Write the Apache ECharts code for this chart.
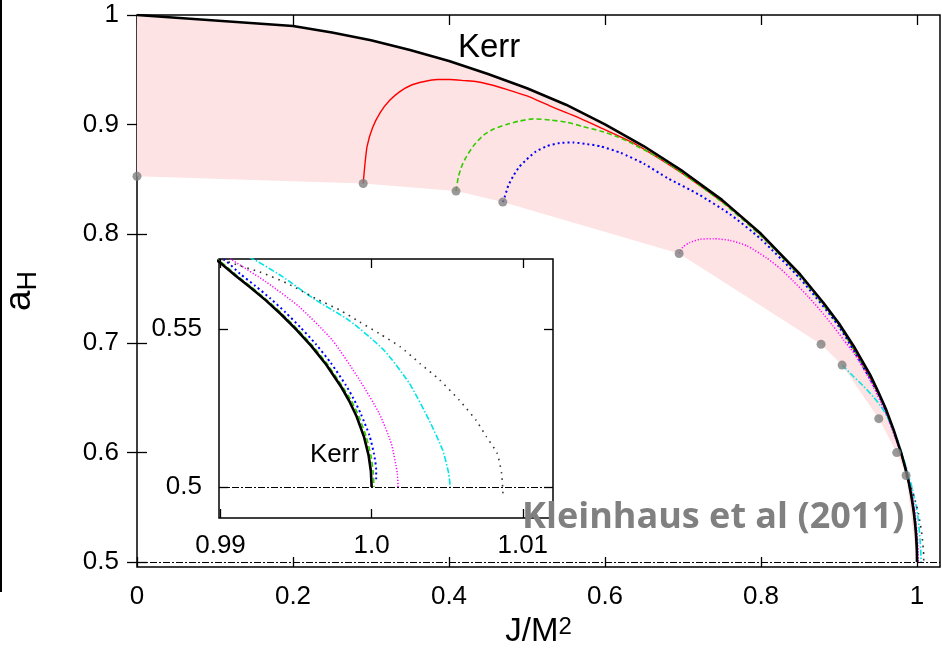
<!DOCTYPE html>
<html>
<head>
<meta charset="utf-8">
<script src="https://cdn.jsdelivr.net/npm/echarts@6/dist/echarts.min.js"></script>
<style>html,body{margin:0;padding:0;background:#fff}#c{width:942px;height:657px}</style>
</head>
<body>
<div id="c"></div>
<script>
// ---- data (J/M^2, a_H) ----
const kerr = [[0,1.000],[0.2,0.990],[0.25,0.984],[0.3,0.977],[0.35,0.968],[0.4,0.958],[0.45,0.946],[0.5,0.933],[0.55,0.918],[0.6,0.900],[0.65,0.880],[0.7,0.857],[0.75,0.831],[0.8,0.800],[0.85,0.763],[0.88,0.737],[0.9,0.718],[0.92,0.696],[0.94,0.671],[0.95,0.656],[0.96,0.640],[0.97,0.621],[0.98,0.599],[0.985,0.586],[0.9899,0.5713],[0.991,0.5669],[0.992,0.5631],[0.993,0.5591],[0.994,0.5547],[0.995,0.5499],[0.996,0.5447],[0.997,0.5387],[0.998,0.5316],[0.9985,0.5274],[0.999,0.5224],[0.9995,0.5158],[0.9998,0.5100],[0.99995,0.5050],[1.0,0.5]];
const red = [[0.290,0.846],[0.292,0.862],[0.295,0.880],[0.302,0.897],[0.312,0.911],[0.324,0.922],[0.337,0.930],[0.352,0.936],[0.367,0.939],[0.385,0.941],[0.401,0.941],[0.420,0.940],[0.436,0.939],[0.455,0.936],[0.474,0.932],[0.500,0.926],[0.529,0.917],[0.560,0.908],[0.594,0.897],[0.636,0.883],[0.680,0.864],[0.720,0.845],[0.760,0.824],[0.800,0.799],[0.850,0.762],[0.900,0.717],[0.950,0.655],[0.970,0.620],[0.980,0.598],[0.985,0.585],[0.9899,0.5713],[0.991,0.5669],[0.992,0.5631],[0.993,0.5591],[0.994,0.5547],[0.995,0.5499],[0.996,0.5447],[0.997,0.5387],[0.998,0.5316],[0.9985,0.5274],[0.999,0.5224],[0.9995,0.5158],[0.9998,0.5100],[0.99995,0.5050],[1.0,0.5]];
const green = [[0.409,0.839],[0.412,0.852],[0.417,0.863],[0.4227,0.871],[0.432,0.881],[0.444,0.890],[0.458,0.896],[0.474,0.900],[0.490,0.903],[0.508,0.905],[0.530,0.904],[0.551,0.902],[0.572,0.898],[0.594,0.894],[0.615,0.889],[0.636,0.882],[0.670,0.869],[0.700,0.855],[0.750,0.829],[0.800,0.798],[0.850,0.761],[0.900,0.716],[0.950,0.655],[0.970,0.620],[0.980,0.599],[0.985,0.586],[0.9900,0.5713],[0.9911,0.5669],[0.9921,0.5631],[0.9931,0.5591],[0.9941,0.5547],[0.9951,0.5499],[0.9961,0.5447],[0.9971,0.5387],[0.9981,0.5316],[0.99865,0.5274],[0.99915,0.5224],[0.99965,0.5158],[0.99995,0.5100],[1.0001,0.5050],[1.00015,0.5000]];
const blue = [[0.469,0.829],[0.4718,0.8345],[0.476,0.844],[0.4825,0.853],[0.490,0.861],[0.4996,0.868],[0.511,0.875],[0.525,0.880],[0.542,0.883],[0.559,0.8834],[0.577,0.882],[0.594,0.880],[0.620,0.874],[0.650,0.864],[0.680,0.851],[0.720,0.836],[0.760,0.818],[0.800,0.795],[0.850,0.759],[0.900,0.715],[0.950,0.654],[0.970,0.620],[0.980,0.599],[0.985,0.587],[0.9903,0.5718],[0.9913,0.5675],[0.9923,0.5637],[0.9933,0.5597],[0.9943,0.5553],[0.9953,0.5505],[0.9963,0.5453],[0.9973,0.5393],[0.9983,0.5322],[0.9988,0.5280],[0.9993,0.5230],[0.99985,0.5164],[1.00015,0.5106],[1.0003,0.5055],[1.0003,0.5025]];
const magenta = [[0.695,0.782],[0.700,0.788],[0.709,0.792],[0.722,0.795],[0.739,0.7955],[0.760,0.794],[0.782,0.789],[0.807,0.778],[0.825,0.768],[0.841,0.757],[0.860,0.743],[0.876,0.730],[0.892,0.716],[0.906,0.703],[0.920,0.690],[0.940,0.666],[0.960,0.636],[0.975,0.608],[0.9862,0.586],[0.9908,0.5718],[0.9930,0.5650],[0.9952,0.5571],[0.9974,0.5465],[0.9992,0.5339],[1.0005,0.5233],[1.0013,0.5138],[1.0017,0.5043],[1.00175,0.5000]];
const cyan = [[0.904,0.680],[0.918,0.670],[0.931,0.661],[0.944,0.651],[0.953,0.643],[0.961,0.634],[0.972,0.617],[0.980,0.601],[0.986,0.587],[0.9895,0.5780],[0.9923,0.5718],[0.9941,0.5666],[0.9963,0.5592],[0.9985,0.5528],[1.0008,0.5434],[1.0025,0.5328],[1.0038,0.5212],[1.0047,0.5117],[1.0051,0.5043],[1.0052,0.5000]];
const gray = [[0.986,0.579],[0.9882,0.5755],[0.9899,0.5725],[0.9908,0.5708],[0.9926,0.5681],[0.9944,0.5645],[0.9963,0.5597],[0.9979,0.5560],[0.9992,0.5523],[1.0005,0.5486],[1.0019,0.5444],[1.0032,0.5391],[1.0045,0.5339],[1.0058,0.5275],[1.0069,0.5212],[1.0076,0.5159],[1.0083,0.5107],[1.0086,0.5043],[1.0087,0.4969]];
const dots = [[0,0.8526],[0.290,0.846],[0.409,0.839],[0.469,0.829],[0.695,0.782],[0.877,0.699],[0.904,0.680],[0.951,0.631],[0.974,0.600],[0.986,0.579]];
const lowerEnd = [[1.0,0.5]];
const mainXTicks = [0,0.2,0.4,0.6,0.8,1];
const mainYTicks = [0.5,0.6,0.7,0.8,0.9,1];
const insetXTicks = [0.99,1.0,1.01];
const insetXLabels = ['0.99','1.0','1.01'];
const insetYTicks = [0.5,0.55];
const insetYLabels = ['0.5','0.55'];
const refLine = 0.5;

const FONT = "'Liberation Sans', Arial, Helvetica, sans-serif";
const chart = echarts.init(document.getElementById('c'), null, {renderer:'canvas'});

function lookup(ticks, labels){
  return function(v){
    for (let i=0;i<ticks.length;i++) if (Math.abs(v-ticks[i])<1e-6) return labels[i];
    return '';
  };
}
function baseAxis(extra){
  return Object.assign({
    type:'value', axisLine:{show:false}, splitLine:{show:false},
    axisTick:{show:true, inside:true, length:10, lineStyle:{color:'#000', width:1.3}},
  }, extra);
}
const labelStyle = {color:'#000', fontFamily:FONT, fontSize:26};

const styles = {
  kerr:{color:'#000', width:2.6, type:'solid'},
  red:{color:'#ff0000', width:1.4, type:'solid'},
  green:{color:'#33cc00', width:1.6, type:[5,3]},
  blue:{color:'#0000ff', width:2, type:[2,3]},
  magenta:{color:'#ff00ff', width:1.5, type:[1.2,1.8]},
  cyan:{color:'#00e5e5', width:1.6, type:[6,2,1.5,2]},
  gray:{color:'#333', width:1.6, type:[1.6,5]}
};
const smoothing = {kerr:false, red:0.2, green:0.2, blue:0.2, magenta:0.2, cyan:0.2, gray:0.2};
const curves = [['red',red],['green',green],['blue',blue],['magenta',magenta],['cyan',cyan],['gray',gray],['kerr',kerr]];

const series = [];
// pink band (main)
series.push({
  type:'custom', xAxisIndex:0, yAxisIndex:0, silent:true, z:1,
  data:[[0,1]],
  renderItem:function(params, api){
    const lower = dots.concat(lowerEnd);
    const pts = kerr.map(p=>api.coord(p)).concat(lower.slice().reverse().map(p=>api.coord(p)));
    return {type:'polygon', shape:{points:pts}, style:{fill:'#fde3e3'}};
  }
});
[[0,0],[2,2]].forEach(function(ax, g){
  curves.forEach(function(c, i){
    const s = {
      type:'line', name:c[0]+g, xAxisIndex:ax[0], yAxisIndex:ax[1], data:c[1],
      showSymbol:false, symbol:'none', smooth:smoothing[c[0]], clip:true, silent:true,
      lineStyle:styles[c[0]], z: 3+i*0.1
    };
    if (i===0) {
      s.markLine = {silent:true, symbol:'none', label:{show:false},
        lineStyle:{color:'#000', width:1.2, type:[7,2,2,2]},
        data:[{yAxis:refLine}], animation:false};
    }
    series.push(s);
  });
});
series.push({type:'scatter', xAxisIndex:0, yAxisIndex:0, data:dots, symbolSize:9,
  itemStyle:{color:'#7f7f7f'}, silent:true, z:6});

const option = {
  animation:false,
  backgroundColor:'#fff',
  grid:[
    {left:137, top:15, width:803, height:552, show:true, borderColor:'#000', borderWidth:1.5, backgroundColor:'transparent', containLabel:false, outerBoundsMode:'none'},
    {left:219, top:259, width:334, height:259, show:true, borderColor:'#000', borderWidth:1.5, backgroundColor:'#fff', containLabel:false, outerBoundsMode:'none'}
  ],
  xAxis:[
    baseAxis({gridIndex:0, min:0, max:1.0295, position:'bottom',
      axisTick:{show:true, inside:true, length:10, customValues:mainXTicks, lineStyle:{color:'#000', width:1.3}},
      axisLabel:Object.assign({customValues:mainXTicks, margin:17}, labelStyle),
      name:'{m|J/M}{s|2}', nameLocation:'middle', nameGap:48, nameMoveOverlap:false,
      nameTextStyle:{color:'#000', fontFamily:FONT, rich:{
        m:{fontSize:33, lineHeight:33, fontFamily:FONT, color:'#000', padding:[11,0,0,0], verticalAlign:'bottom'},
        s:{fontSize:24, lineHeight:24, fontFamily:FONT, color:'#000', verticalAlign:'top'}}}
    }),
    baseAxis({gridIndex:0, min:0, max:1.0295, position:'top',
      axisTick:{show:true, inside:true, length:10, customValues:mainXTicks, lineStyle:{color:'#000', width:1.3}},
      axisLabel:{show:false}}),
    baseAxis({gridIndex:1, min:0.9899, max:1.0120, position:'bottom',
      axisTick:{show:true, inside:true, length:9, customValues:insetXTicks, lineStyle:{color:'#000', width:1.3}},
      axisLabel:Object.assign({customValues:insetXTicks, margin:15, formatter:lookup(insetXTicks, insetXLabels)}, labelStyle)}),
    baseAxis({gridIndex:1, min:0.9899, max:1.0120, position:'top',
      axisTick:{show:true, inside:true, length:9, customValues:insetXTicks, lineStyle:{color:'#000', width:1.3}},
      axisLabel:{show:false}})
  ],
  yAxis:[
    baseAxis({gridIndex:0, min:0.4954, max:1.0, position:'left',
      axisTick:{show:true, inside:true, length:10, customValues:mainYTicks, lineStyle:{color:'#000', width:1.3}},
      axisLabel:Object.assign({customValues:mainYTicks, margin:18}, labelStyle),
      name:'{a|a}{h|H}', nameLocation:'middle', nameGap:95, nameRotate:90, nameMoveOverlap:false,
      nameTextStyle:{color:'#000', fontFamily:FONT, rich:{
        a:{fontSize:37, lineHeight:37, fontFamily:FONT, color:'#000', padding:[0,0,8,0]},
        h:{fontSize:27, lineHeight:27, fontFamily:FONT, color:'#000', verticalAlign:'bottom'}}}
    }),
    baseAxis({gridIndex:0, min:0.4954, max:1.0, position:'right',
      axisTick:{show:true, inside:true, length:10, customValues:mainYTicks, lineStyle:{color:'#000', width:1.3}},
      axisLabel:{show:false}}),
    baseAxis({gridIndex:1, min:0.4902, max:0.5722, position:'left',
      axisTick:{show:true, inside:true, length:9, customValues:insetYTicks, lineStyle:{color:'#000', width:1.3}},
      axisLabel:Object.assign({customValues:insetYTicks, margin:17, formatter:lookup(insetYTicks, insetYLabels)}, labelStyle)}),
    baseAxis({gridIndex:1, min:0.4902, max:0.5722, position:'right',
      axisTick:{show:true, inside:true, length:9, customValues:insetYTicks, lineStyle:{color:'#000', width:1.3}},
      axisLabel:{show:false}})
  ],
  graphic:[
    {type:'line', silent:true, shape:{x1:1, y1:0, x2:1, y2:592}, style:{stroke:'#000', lineWidth:2}},
    {type:'text', silent:true, left:458, top:31, z:10, style:{text:'Kerr', fill:'#000', font:"33px 'Liberation Sans', Arial, sans-serif"}},
    {type:'text', silent:true, left:310, top:442, z:10, style:{text:'Kerr', fill:'#000', font:"26px 'Liberation Sans', Arial, sans-serif"}},
    {type:'text', silent:true, left:522, top:500, z:10, style:{text:'Kleinhaus et al (2011)', fill:'#808080', font:"bold 36px 'Open Sans', sans-serif"}}
  ],
  series:series
};
chart.setOption(option);
</script>
</body>
</html>
